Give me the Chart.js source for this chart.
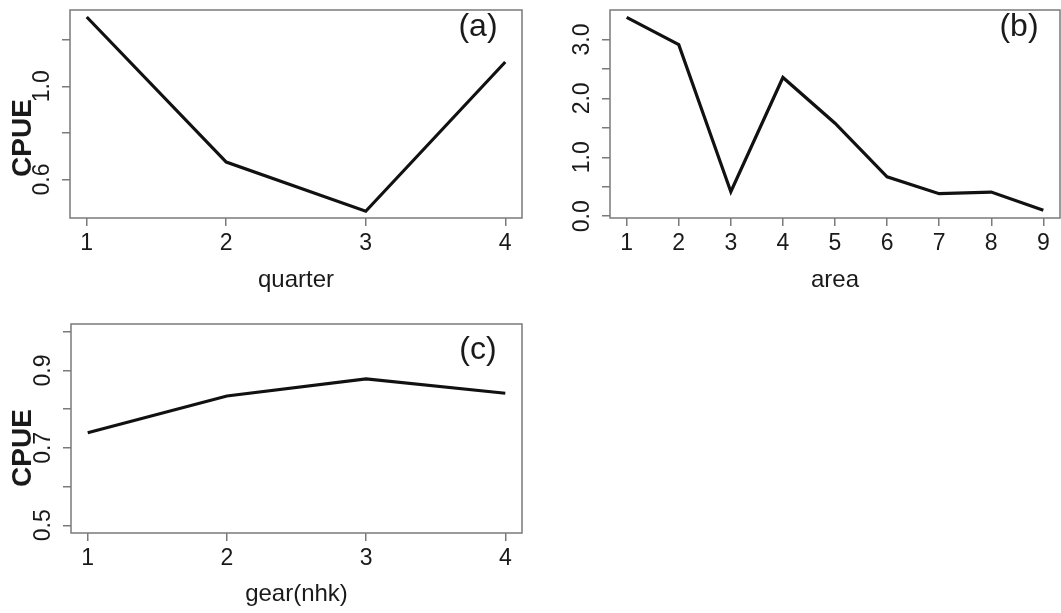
<!DOCTYPE html>
<html>
<head>
<meta charset="UTF-8">
<title>CPUE</title>
<script src="https://cdn.jsdelivr.net/npm/chart.js"></script>
<style>
  body { margin: 0; background: #fff; }
  canvas { position: absolute; }
</style>
</head>
<body>
<canvas id="chart-a" width="530" height="300" style="left:0;top:0"></canvas>
<canvas id="chart-b" width="521" height="300" style="left:540px;top:0"></canvas>
<canvas id="chart-c" width="530" height="303" style="left:0;top:310px"></canvas>
<script>
// (a) quarter
const quarters = [1, 2, 3, 4];
const quarterCpue = [1.297, 0.675, 0.464, 1.104];
const quarterTicks = [0.6, 0.8, 1.0, 1.2];
const quarterLabels = [0.6, 1.0];

// (b) area
const areas = [1, 2, 3, 4, 5, 6, 7, 8, 9];
const areaCpue = [3.376, 2.911, 0.416, 2.355, 1.579, 0.669, 0.383, 0.410, 0.101];
const areaTicks = [0, 0.5, 1, 1.5, 2, 2.5, 3];
const areaLabels = [0, 1, 2, 3];

// (c) gear(nhk)
const gears = [1, 2, 3, 4];
const gearCpue = [0.739, 0.834, 0.878, 0.841];
const gearTicks = [0.5, 0.6, 0.7, 0.8, 0.9, 1.0];
const gearLabels = [0.5, 0.7, 0.9];

Chart.defaults.font.family = "'Liberation Sans', Arial, sans-serif";
Chart.defaults.color = '#1a1a1a';

const rStyle = {
  id: 'rStyle',
  afterDraw(chart, args, o) {
    const ctx = chart.ctx;
    const a = chart.chartArea;
    const y = chart.scales.y;
    ctx.save();
    ctx.strokeStyle = '#7a7a7a';
    ctx.lineWidth = 1.5;
    ctx.strokeRect(a.left, a.top, a.right - a.left, a.bottom - a.top);

    ctx.fillStyle = '#1a1a1a';
    ctx.textAlign = 'center';
    ctx.textBaseline = 'middle';
    ctx.font = "23px 'Liberation Sans'";
    o.yLabels.forEach(v => {
      ctx.save();
      ctx.translate(a.left - 27, y.getPixelForValue(v));
      ctx.rotate(-Math.PI / 2);
      ctx.fillText(v.toFixed(1), 0, 0);
      ctx.restore();
    });

    ctx.font = "32px 'Liberation Sans'";
    ctx.fillText(o.letter, a.right - o.letterDx, a.top + o.letterDy);

    if (o.yTitle) {
      ctx.save();
      ctx.font = "bold 28px 'Liberation Sans'";
      ctx.translate(23, 138);
      ctx.rotate(-Math.PI / 2);
      ctx.fillText(o.yTitle, 0, 0);
      ctx.restore();
    }
    ctx.restore();
  }
};

function makeChart(id, cfg) {
  new Chart(document.getElementById(id), {
    type: 'line',
    data: {
      datasets: [{
        data: cfg.xs.map((x, i) => ({ x: x, y: cfg.ys[i] })),
        borderColor: '#111',
        borderWidth: 3.2,
        pointRadius: 0,
        tension: 0
      }]
    },
    plugins: [rStyle],
    options: {
      responsive: false,
      animation: false,
      layout: { padding: cfg.padding },
      plugins: {
        legend: { display: false },
        tooltip: { enabled: false },
        rStyle: { yLabels: cfg.yLabels, letter: cfg.letter, letterDx: cfg.letterDx, letterDy: cfg.letterDy, yTitle: cfg.yTitle }
      },
      scales: {
        x: {
          type: 'linear',
          min: cfg.xMin,
          max: cfg.xMax,
          afterBuildTicks: s => { s.ticks = cfg.xs.map(v => ({ value: v })); },
          afterFit: s => { s.height = cfg.xHeight; },
          border: { display: false },
          grid: { drawOnChartArea: false, drawTicks: true, tickLength: 8, color: '#7a7a7a', lineWidth: 1.5 },
          ticks: { autoSkip: false, maxRotation: 0, padding: 4, font: { size: 23 }, callback: v => String(v) },
          title: { display: true, text: cfg.xTitle, font: { size: 24, lineHeight: 1.2 }, padding: { top: 0, bottom: cfg.titlePad } }
        },
        y: {
          min: cfg.yMin,
          max: cfg.yMax,
          afterBuildTicks: s => { s.ticks = cfg.yTicks.map(v => ({ value: v })); },
          afterFit: s => { s.width = cfg.yWidth; },
          border: { display: false },
          grid: { drawOnChartArea: false, drawTicks: true, tickLength: 8, color: '#7a7a7a', lineWidth: 1.5 },
          ticks: { display: false }
        }
      }
    }
  });
}

makeChart('chart-a', {
  xs: quarters, ys: quarterCpue, yTicks: quarterTicks, yLabels: quarterLabels,
  xMin: 0.88, xMax: 4.12, yMin: 0.435, yMax: 1.327,
  padding: { top: 10, right: 8, left: 0, bottom: 0 }, yWidth: 70, xHeight: 82,
  xTitle: 'quarter', titlePad: 5, letter: '(a)', letterDx: 44, letterDy: 17, yTitle: 'CPUE'
});

makeChart('chart-b', {
  xs: areas, ys: areaCpue, yTicks: areaTicks, yLabels: areaLabels,
  xMin: 0.68, xMax: 9.32, yMin: -0.03, yMax: 3.5,
  padding: { top: 10, right: 1, left: 0, bottom: 0 }, yWidth: 70, xHeight: 82,
  xTitle: 'area', titlePad: 5, letter: '(b)', letterDx: 41, letterDy: 17
});

makeChart('chart-c', {
  xs: gears, ys: gearCpue, yTicks: gearTicks, yLabels: gearLabels,
  xMin: 0.88, xMax: 4.12, yMin: 0.48, yMax: 1.02,
  padding: { top: 14, right: 8, left: 0, bottom: 0 }, yWidth: 71, xHeight: 80,
  xTitle: 'gear(nhk)', titlePad: 4, letter: '(c)', letterDx: 44, letterDy: 26, yTitle: 'CPUE'
});
</script>
</body>
</html>
